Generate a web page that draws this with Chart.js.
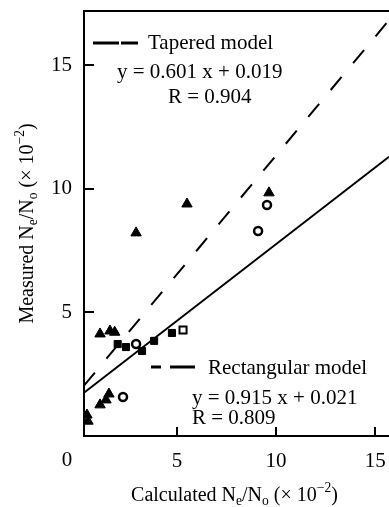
<!DOCTYPE html>
<html>
<head>
<meta charset="utf-8">
<script src="https://cdn.jsdelivr.net/npm/chart.js@4/dist/chart.umd.min.js"></script>
<style>
html,body{margin:0;padding:0;background:#fff;}
canvas{display:block;}
</style>
</head>
<body>
<canvas id="c" width="389" height="507"></canvas>
<script>
// ---- data (units of 10^-2) ----
const xTicks = [5, 10, 15];
const yTicks = [5, 10, 15];
const trianglePts = [
  {x:1.11,y:4.13},{x:1.61,y:4.25},{x:1.85,y:4.2},
  {x:2.93,y:8.22},{x:5.5,y:9.39},{x:9.64,y:9.84},
  {x:0.45,y:0.85},{x:0.5,y:0.6},
  {x:1.11,y:1.26},{x:1.41,y:1.46},{x:1.56,y:1.7}
];
const circlePts = [
  {x:2.93,y:3.72},{x:9.54,y:9.35},{x:9.09,y:8.3},{x:2.27,y:1.58}
];
const squarePts = [
  {x:2.0,y:3.72},{x:2.42,y:3.6},{x:3.23,y:3.44},{x:3.84,y:3.85},{x:4.74,y:4.17}
];
const openSquarePts = [{x:5.3,y:4.29}];
const taperedLine = [{x:0.3,y:1.75},{x:15.7,y:11.3}];
const rectLine = [{x:0.3,y:2.04},{x:15.7,y:16.83}];
const taperedLabels = ["Tapered model", "y = 0.601 x + 0.019", "R = 0.904"];
const rectLabels = ["Rectangular model", "y = 0.915 x + 0.021", "R = 0.809"];
const xTitle = [{t:"Calculated N"},{t:"e",sub:1},{t:"/N"},{t:"o",sub:1},{t:" (\u00d7 10"},{t:"\u22122",sup:1},{t:")"}];
const yTitle = [{t:"Measured N"},{t:"e",sub:1},{t:"/N"},{t:"o",sub:1},{t:" (\u00d7 10"},{t:"\u22122",sup:1},{t:")"}];

const FONT = "'Liberation Serif','Times New Roman',serif";

function drawRich(ctx, segs, cx, cy, size){
  let w = 0;
  const parts = segs.map(s=>{
    const fs = (s.sub||s.sup) ? size*0.68 : size;
    ctx.font = fs + "px " + FONT;
    const mw = ctx.measureText(s.t).width;
    w += mw;
    return {s, fs, mw};
  });
  let x = cx - w/2;
  const base = cy + size*0.33;
  ctx.textBaseline = "alphabetic";
  ctx.textAlign = "left";
  parts.forEach(p=>{
    ctx.font = p.fs + "px " + FONT;
    let y = base;
    if (p.s.sub) y += size*0.2;
    if (p.s.sup) y -= size*0.42;
    ctx.fillText(p.s.t, x, y);
    x += p.mw;
  });
}

function seg(ctx, x1, x2, y){
  ctx.beginPath(); ctx.moveTo(x1, y); ctx.lineTo(x2, y); ctx.stroke();
}

const decor = {
  id: 'decor',
  afterDraw(chart){
    const ctx = chart.ctx, a = chart.chartArea;
    const xs = chart.scales.x, ys = chart.scales.y;
    ctx.save();
    ctx.strokeStyle = '#000'; ctx.fillStyle = '#000';
    // top border
    ctx.lineWidth = 2;
    ctx.beginPath(); ctx.moveTo(a.left-1, a.top); ctx.lineTo(a.right, a.top); ctx.stroke();
    // inner ticks
    xTicks.forEach(v=>{
      const px = Math.round(xs.getPixelForValue(v));
      ctx.beginPath(); ctx.moveTo(px, a.bottom); ctx.lineTo(px, a.bottom-9); ctx.stroke();
    });
    yTicks.forEach(v=>{
      const py = Math.round(ys.getPixelForValue(v));
      ctx.beginPath(); ctx.moveTo(a.left, py); ctx.lineTo(a.left+10, py); ctx.stroke();
    });
    // origin label
    ctx.font = "21px " + FONT; ctx.textAlign = 'center'; ctx.textBaseline = 'middle';
    ctx.fillText("0", a.left-17, a.bottom+24);
    // legend samples
    ctx.lineWidth = 3;
    seg(ctx, 93, 119, 43); seg(ctx, 121, 138, 43);
    seg(ctx, 151, 161, 367); seg(ctx, 170, 195, 367);
    ctx.font = "21px " + FONT; ctx.textAlign = 'left'; ctx.textBaseline = 'middle';
    ctx.fillText(taperedLabels[0], 148, 43);
    ctx.fillText(taperedLabels[1], 117, 72);
    ctx.fillText(taperedLabels[2], 168, 97);
    ctx.fillText(rectLabels[0], 208, 368);
    ctx.fillText(rectLabels[1], 192, 398);
    ctx.fillText(rectLabels[2], 192, 418);
    // axis titles
    drawRich(ctx, xTitle, (a.left+a.right)/2 - 2, 494, 20);
    ctx.translate(26, (a.top+a.bottom)/2);
    ctx.rotate(-Math.PI/2);
    drawRich(ctx, yTitle, 0, 0, 20);
    ctx.restore();
  }
};

function noPad(s){ s.paddingTop = 0; s.paddingBottom = 0; s.paddingLeft = 0; s.paddingRight = 0; }

new Chart(document.getElementById('c'), {
  type: 'scatter',
  data: {
    datasets: [
      {type:'line', data: taperedLine, borderColor:'#000', borderWidth:1.8, pointRadius:0, fill:false, tension:0},
      {type:'line', data: rectLine, borderColor:'#000', borderWidth:2, borderDash:[17,18], pointRadius:0, fill:false, tension:0},
      {data: trianglePts, pointStyle:'triangle', pointRadius:6, backgroundColor:'#000', borderColor:'#000', borderWidth:1},
      {data: circlePts, pointStyle:'circle', pointRadius:4, backgroundColor:'#fff', borderColor:'#000', borderWidth:2.5},
      {data: squarePts, pointStyle:'rect', pointRadius:5, backgroundColor:'#000', borderColor:'#000', borderWidth:1},
      {data: openSquarePts, pointStyle:'rect', pointRadius:5, backgroundColor:'#fff', borderColor:'#000', borderWidth:2}
    ]
  },
  options: {
    responsive: false,
    devicePixelRatio: 1,
    animation: false,
    layout: {autoPadding: false, padding: {top: 11, left: 0, right: 0, bottom: 0}},
    plugins: {legend: {display:false}, tooltip: {enabled:false}},
    scales: {
      x: {
        type: 'linear', position: 'bottom', min: 0.3, max: 15.7,
        grid: {display:false, drawTicks:false},
        border: {display:true, color:'#000', width:2},
        ticks: {color:'#000', font:{family: FONT, size:21}, padding: 13, maxRotation:0},
        afterBuildTicks: s => { s.ticks = xTicks.map(v=>({value:v})); },
        afterFit: s => { s.height = 71; noPad(s); }
      },
      y: {
        type: 'linear', min: 0, max: 17.2,
        grid: {display:false, drawTicks:false},
        border: {display:true, color:'#000', width:2},
        ticks: {color:'#000', font:{family: FONT, size:21}, padding: 12},
        afterBuildTicks: s => { s.ticks = yTicks.map(v=>({value:v})); },
        afterFit: s => { s.width = 84; noPad(s); }
      }
    }
  },
  plugins: [decor]
});
</script>
</body>
</html>
